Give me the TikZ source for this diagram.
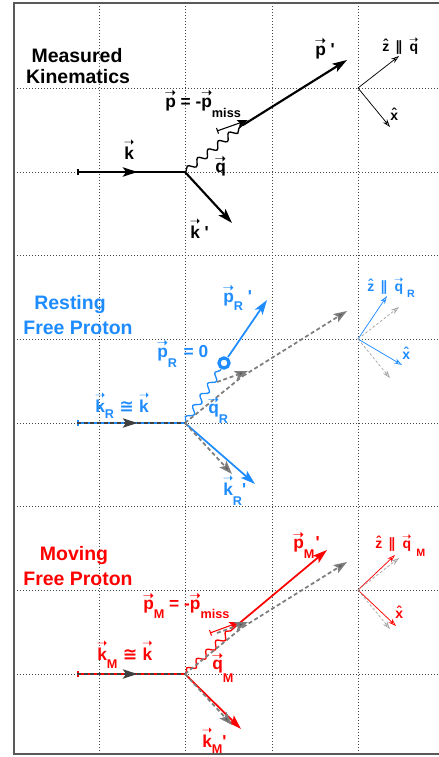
\documentclass[tikz,border=0pt]{standalone}
\usepackage{fontspec}
\usepackage{graphicx}
\setmainfont{Liberation Sans}
\newfontfamily\symf{DejaVu Sans}
\usetikzlibrary{arrows.meta,decorations.pathmorphing,decorations.markings}
\definecolor{myblue}{RGB}{30,140,255}
\definecolor{myred}{RGB}{255,0,0}
\definecolor{refgray}{RGB}{125,125,125}
\definecolor{gridc}{RGB}{70,70,70}
\newcommand{\vv}[1]{{\setbox0\hbox{#1}\setbox2\hbox{\resizebox{1.1\wd0}{!}{\symf\mdseries\char"279D}}\hbox to\wd0{\hss\raisebox{\dimexpr\ht0-0.02em\relax}[0pt][0pt]{\box2}\hss}\kern-\wd0\box0}}
\newcommand{\hatv}[1]{{\setbox0\hbox{#1}\hbox to\wd0{\hss\raisebox{0.12em}[0pt][0pt]{\char"02C6}\hss}\kern-\wd0\box0}}
\newcommand{\qs}{\textquotesingle}
\newcommand{\subf}{\fontsize{9.5}{10}\selectfont}
\newcommand{\parl}{{\symf\char"2225}}
\newcommand{\cng}{{\symf\char"2245}}
\begin{document}
\begin{tikzpicture}[x=0.75pt,y=-0.75pt,
  lab/.style={inner sep=0pt, anchor=base west, font=\fontsize{13}{15}\selectfont\bfseries},
  axl/.style={inner sep=0pt, anchor=base west, font=\fontsize{10.5}{12}\selectfont\bfseries},
  ttl/.style={inner sep=0pt, anchor=base, font=\fontsize{14.6}{17}\selectfont\bfseries},
  gridline/.style={draw=gridc, line width=0.75pt, dash pattern=on 0.75pt off 1.5pt},
  mtip/.style={arrows={-Stealth[length=11pt,width=7pt,inset=2.5pt]}},
  midarrow/.style={postaction={decorate,decoration={markings,mark=at position 0.56 with {\arrow{Stealth[length=11pt,width=7pt,inset=2.5pt]}}}}},
  blk/.style={line width=1.6pt},
  col/.style={line width=1.3pt},
  wavy/.style={line width=1pt, decorate, decoration={snake, segment length=10pt, amplitude=2.4pt, pre length=1pt, post length=1pt}},
  pmiss/.style={line width=0.8pt, arrows={Bar[width=4.5pt]-Stealth[length=8pt,width=5.5pt,inset=1.5pt]}},
  axis/.style={line width=0.55pt, arrows={-Stealth[open,length=6pt,width=4pt]}},
  refl/.style={draw=refgray, line width=1.3pt, dash pattern=on 3pt off 2pt},
  reftip/.style={arrows={-Stealth[length=10pt,width=7pt,inset=2pt,fill=refgray!70!black]}},
  refax/.style={draw=refgray!70, line width=0.55pt, dash pattern=on 2pt off 1.5pt, arrows={-Stealth[open,length=6pt,width=4pt]}},
  overl/.style={draw=black!75, line width=1.4pt, dash pattern=on 3pt off 2pt},
]
\useasboundingbox (0,0) rectangle (439,757);
% grid
\foreach \x in {99,185,272,358} \draw[gridline] (\x,3) -- (\x,754);
\foreach \y in {88,172,255,339,423,506,590,674} \draw[gridline] (14,\y) -- (439,\y);
\draw[draw=black!65, line width=0.9pt] (439,3) -- (14,3);
\draw[draw=black!65, line width=0.9pt] (14,754) -- (439,754);
\draw[draw=black!65, line width=1.6pt] (14,2) -- (14,755);

% ---------------- panel 1 ----------------
\coordinate (V1) at (185,172);
\coordinate (K1s) at (77,172);
\coordinate (KP1) at (232,223);
\coordinate (Q1) at (244,124);
\coordinate (P1s) at (243,125);
\coordinate (P1e) at (347,60);
\coordinate (M1s) at (217,131);
\coordinate (M1e) at (248,120);
\coordinate (O1) at (358,88);
\coordinate (Z1) at (399,56);
\coordinate (X1) at (390,127);

\draw[blk, arrows={Bar[width=5pt]-}, midarrow] (K1s) -- (V1);
\draw[blk, mtip] (V1) -- (KP1);
\draw[wavy] (V1) -- (Q1);
\draw[blk, mtip] (P1s) -- (P1e);
\draw[pmiss] (M1s) -- (M1e);
\draw[axis] (O1) -- (Z1);
\draw[axis] (O1) -- (X1);

\node[ttl] (t1a) at (77,62) {Measured};
\node[ttl] (t1b) at (78,83) {Kinematics};
\node[lab] (lk1) at (124,159) {\vv{k}};
\node[lab] (lkp1) at (190,238) {\vv{k} \qs};
\node[lab] (lq1) at (215,172) {\vv{q}};
\node[lab] (lp1) at (165,107) {\vv{p} = -\vv{p}\raisebox{-8pt}{\subf miss}};
\node[lab] (lpp1) at (315,55) {\vv{p} \qs};
\node[axl] (lz1) at (382,51) {\hatv{z}\hspace{4.5pt}\parl\hspace{5.5pt}\vv{q}};
\node[axl] (lx1) at (390,120) {\hatv{x}};

% ---------------- panel 2 ----------------
\coordinate (V2) at (185,423);
\coordinate (K2s) at (77,423);
\coordinate (KP2) at (255,484);
\coordinate (C2) at (224,363);
\coordinate (W2) at (221,369);
\coordinate (S2) at (228,357);
\coordinate (PP2) at (267,300);
\coordinate (O2) at (358,339);
\coordinate (Z2) at (387,296);
\coordinate (X2) at (402,365);
\coordinate (Q1r) at (244,375);
\coordinate (P1sr) at (243,376);
\coordinate (P1er) at (347,311);
\coordinate (M1sr) at (217,382);
\coordinate (M1er) at (248,371);
\coordinate (KP1r) at (232,474);
\coordinate (Z1r) at (399,307);
\coordinate (X1r) at (390,378);

\draw[col, myblue, arrows={Bar[width=5pt]-}] (K2s) -- (V2);
\draw[col, myblue, mtip] (V2) -- (KP2);
\draw[wavy, myblue] (V2) -- (W2);
\draw[myblue, line width=2.4pt] (C2) circle[radius=3.8pt];
\draw[col, myblue, mtip] (S2) -- (PP2);
\draw[axis, myblue] (O2) -- (Z2);
\draw[axis, myblue] (O2) -- (X2);
\draw[refax] (O2) -- (Z1r);
\draw[refax] (O2) -- (X1r);
\draw[overl, midarrow] (K2s) -- (V2);
\draw[refl] (V2) -- (Q1r);
\draw[refl, reftip] (M1sr) -- (M1er);
\draw[refl, reftip] (P1sr) -- (P1er);
\draw[refl, reftip] (V2) -- (KP1r);

\node[ttl, myblue] (t2a) at (70,309) {Resting};
\node[ttl, myblue] (t2b) at (78,334) {Free Proton};
\node[lab, myblue] (lk2) at (95,412) {\vv{k}\raisebox{-5pt}{\subf R}\hspace{4pt}\cng\hspace{4pt}\vv{k}};
\node[lab, myblue] (lp2) at (157,357) {\vv{p}\raisebox{-8pt}{\subf R}\hspace{5pt}= 0};
\node[lab, myblue] (lq2) at (208,413) {\vv{q}\raisebox{-7.5pt}{\subf R}};
\node[lab, myblue] (lpp2) at (223,302) {\vv{p}\raisebox{-6pt}{\subf R} \qs};
\node[lab, myblue] (lkp2) at (223,495) {\vv{k}\raisebox{-7.5pt}{\subf R}\qs};
\node[axl, myblue] (lz2) at (367,291) {\hatv{z}\hspace{4.5pt}\parl\hspace{5.5pt}\vv{q}\hspace{3pt}\raisebox{-5pt}{\fontsize{8}{8}\selectfont R}};
\node[axl, myblue] (lx2) at (402,359) {\hatv{x}};

% ---------------- panel 3 ----------------
\coordinate (V3) at (185,674);
\coordinate (K3s) at (77,674);
\coordinate (KP3) at (241,729);
\coordinate (Q3) at (236,626);
\coordinate (P3s) at (236,626);
\coordinate (P3e) at (327,550);
\coordinate (M3s) at (210,633);
\coordinate (M3e) at (240,622);
\coordinate (O3) at (358,590);
\coordinate (Z3) at (395,555);
\coordinate (X3) at (396,626);
\coordinate (Q1rr) at (244,626);
\coordinate (P1srr) at (243,627);
\coordinate (P1err) at (347,562);
\coordinate (M1srr) at (217,633);
\coordinate (M1err) at (248,622);
\coordinate (KP1rr) at (232,725);
\coordinate (Z1rr) at (399,558);
\coordinate (X1rr) at (390,629);

\draw[col, myred, arrows={Bar[width=5pt]-}] (K3s) -- (V3);
\draw[col, myred, mtip] (V3) -- (KP3);
\draw[wavy, myred] (V3) -- (Q3);
\draw[col, myred, mtip] (P3s) -- (P3e);
\draw[pmiss, myred] (M3s) -- (M3e);
\draw[axis, myred] (O3) -- (Z3);
\draw[axis, myred] (O3) -- (X3);
\draw[refax] (O3) -- (Z1rr);
\draw[refax] (O3) -- (X1rr);
\draw[overl, midarrow] (K3s) -- (V3);
\draw[refl] (V3) -- (Q1rr);
\draw[refl, reftip] (M1srr) -- (M1err);
\draw[refl, reftip] (P1srr) -- (P1err);
\draw[refl, reftip] (V3) -- (KP1rr);

\node[ttl, myred] (t3a) at (74,560) {Moving};
\node[ttl, myred] (t3b) at (78,585) {Free Proton};
\node[lab, myred] (lk3) at (97,660) {\vv{k}\raisebox{-6pt}{\subf M}\hspace{4pt}\cng\hspace{4pt}\vv{k}};
\node[lab, myred] (lp3) at (143,609) {\vv{p}\raisebox{-7pt}{\subf M} = -\vv{p}\raisebox{-7pt}{\subf miss}};
\node[lab, myred] (lq3) at (212,669) {\vv{q}\raisebox{-10pt}{\subf M}};
\node[lab, myred] (lpp3) at (293,548) {\vv{p}\raisebox{-7.5pt}{\subf M}\hspace{1pt}\qs};
\node[lab, myred] (lkp3) at (202,747) {\vv{k}\raisebox{-4.5pt}{\subf M}\qs};
\node[axl, myred] (lz3) at (375,548) {\hatv{z}\hspace{4.5pt}\parl\hspace{5.5pt}\vv{q}\hspace{4pt}\raisebox{-6pt}{\fontsize{8}{8}\selectfont M}};
\node[axl, myred] (lx3) at (395,618) {\hatv{x}};
\end{tikzpicture}
\end{document}
